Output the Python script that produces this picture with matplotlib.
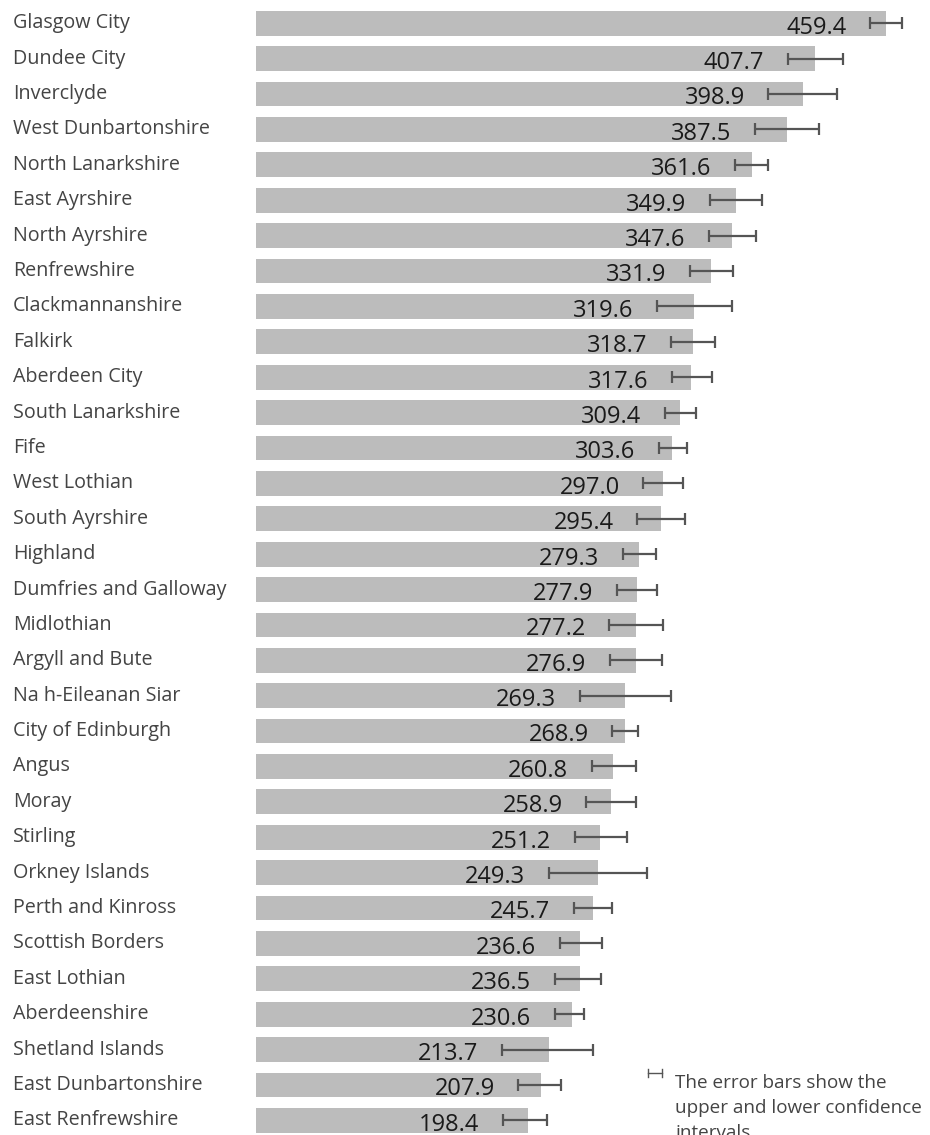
import matplotlib
matplotlib.use('Agg')
import matplotlib.pyplot as plt
import matplotlib.transforms as mtransforms
from matplotlib.lines import Line2D
import numpy as np

plt.rcParams['font.family'] = ['Open Sans', 'DejaVu Sans']

# council areas, rate and the confidence interval
areas = ['Glasgow City', 'Dundee City', 'Inverclyde', 'West Dunbartonshire',
         'North Lanarkshire', 'East Ayrshire', 'North Ayrshire', 'Renfrewshire',
         'Clackmannanshire', 'Falkirk', 'Aberdeen City', 'South Lanarkshire',
         'Fife', 'West Lothian', 'South Ayrshire', 'Highland',
         'Dumfries and Galloway', 'Midlothian', 'Argyll and Bute',
         'Na h-Eileanan Siar', 'City of Edinburgh', 'Angus', 'Moray', 'Stirling',
         'Orkney Islands', 'Perth and Kinross', 'Scottish Borders', 'East Lothian',
         'Aberdeenshire', 'Shetland Islands', 'East Dunbartonshire',
         'East Renfrewshire']
rates = [459.4, 407.7, 398.9, 387.5, 361.6, 349.9, 347.6, 331.9, 319.6, 318.7,
         317.6, 309.4, 303.6, 297.0, 295.4, 279.3, 277.9, 277.2, 276.9, 269.3,
         268.9, 260.8, 258.9, 251.2, 249.3, 245.7, 236.6, 236.5, 230.6, 213.7,
         207.9, 198.4]
ci_lower = [447.9, 387.9, 373.8, 364.0, 349.5, 331.2, 330.3, 316.6, 292.3, 303.0,
            303.5, 298.4, 293.8, 282.6, 278.2, 267.5, 263.1, 257.8, 258.3, 236.4,
            260.0, 244.9, 241.0, 232.5, 213.8, 232.0, 221.6, 218.1, 218.1, 179.2,
            191.4, 180.4]
ci_upper = [471.1, 428.0, 423.6, 411.0, 373.8, 368.9, 365.0, 347.8, 347.5, 334.9,
            332.5, 321.0, 314.2, 311.7, 313.0, 291.6, 292.8, 297.2, 296.4, 303.0,
            278.7, 277.5, 277.5, 270.5, 285.4, 259.9, 252.4, 251.9, 239.3, 245.6,
            222.3, 212.1]

W, H = 930, 1135
fig = plt.figure(figsize=(W / 100, H / 100), dpi=100)
ax = fig.add_axes([256 / W, 0, 1 - 256 / W, 1])

y = np.arange(len(areas))
vals = np.array(rates)
lo = vals - np.array(ci_lower)
hi = np.array(ci_upper) - vals

ax.barh(y, vals, height=0.70, color='#bcbcbc', zorder=1)
ax.errorbar(vals, y, xerr=[lo, hi], fmt='none', ecolor='#555555',
            elinewidth=1.6, capsize=4.3, capthick=1.6, zorder=2)

# value labels sit just left of the lower error bar
for yi, v, l in zip(y, rates, ci_lower):
    ax.annotate('%.1f' % v, xy=(l, yi), xytext=(-17, -1), textcoords='offset points',
                ha='right', va='center_baseline', fontsize=17,
                color='#1a1a1a', zorder=3)

# area names on the left
trans = mtransforms.blended_transform_factory(fig.transFigure, ax.transData)
for yi, name in zip(y, areas):
    ax.text(13 / W, yi, name, transform=trans, ha='left', va='center',
            fontsize=14.2, color='#444444', clip_on=False)

ax.set_xlim(0, (W - 256) / 1.3707)
ax.set_ylim((H - 23.3) / 35.39, -23.3 / 35.39)
ax.axis('off')

# note about the error bars
sym_y = 1 - 1073 / H
fig.add_artist(Line2D([648 / W, 662 / W], [sym_y, sym_y], color='#555555', lw=1,
                      transform=fig.transFigure))
for sx in (648, 662):
    fig.add_artist(Line2D([sx / W, sx / W], [sym_y - 4 / H, sym_y + 4 / H],
                          color='#555555', lw=1, transform=fig.transFigure))
note = ['The error bars show the', 'upper and lower confidence', 'intervals']
for k, line in enumerate(note):
    fig.text(675 / W, 1 - (1088 + 25 * k) / H, line, ha='left', va='baseline',
             fontsize=13.6, color='#444444')

fig.savefig('out.png', dpi=100)
